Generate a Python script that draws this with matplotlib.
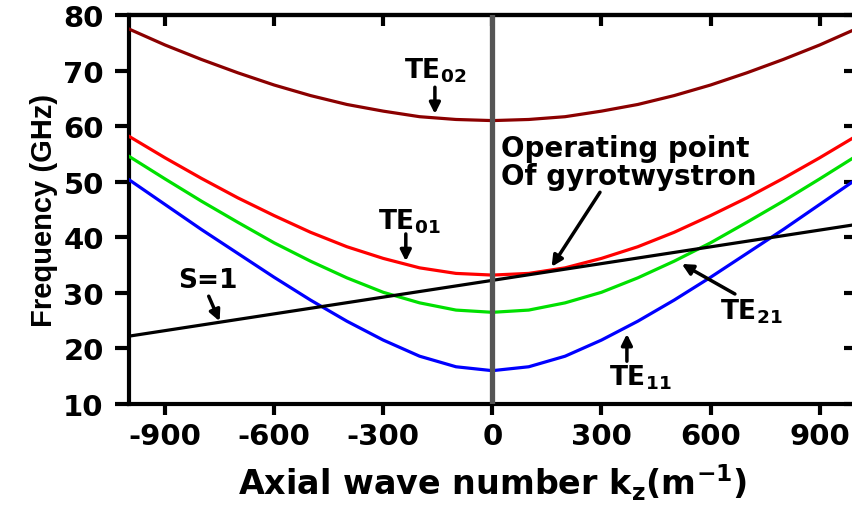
import matplotlib
matplotlib.use("Agg")
import matplotlib.pyplot as plt

plt.rcParams['font.family'] = ['DejaVu Sans']
plt.rcParams['font.weight'] = 'bold'
plt.rcParams['mathtext.fontset'] = 'dejavusans'
plt.rcParams['mathtext.default'] = 'bf'

# Data
kz = [-1000, -900, -800, -700, -600, -500, -400, -300, -200, -100, 0,
      100, 200, 300, 400, 500, 600, 700, 800, 900, 1000]
te11 = [50.4, 45.9, 41.4, 37.1, 32.8, 28.7, 24.9, 21.5, 18.6, 16.7, 16.0,
        16.7, 18.6, 21.5, 24.9, 28.7, 32.8, 37.1, 41.4, 45.9, 50.4]
te21 = [54.6, 50.5, 46.5, 42.7, 39.0, 35.7, 32.7, 30.1, 28.2, 26.9, 26.5,
        26.9, 28.2, 30.1, 32.7, 35.7, 39.0, 42.7, 46.5, 50.5, 54.6]
te01 = [58.2, 54.3, 50.6, 47.1, 43.9, 40.9, 38.3, 36.2, 34.5, 33.5, 33.2,
        33.5, 34.5, 36.2, 38.3, 40.9, 43.9, 47.1, 50.6, 54.3, 58.2]
te02 = [77.5, 74.6, 72.0, 69.6, 67.4, 65.5, 63.9, 62.7, 61.7, 61.2, 61.0,
        61.2, 61.7, 62.7, 63.9, 65.5, 67.4, 69.6, 72.0, 74.6, 77.5]
beam_kz = [-1000, 1000]
beam_f = [22.2, 42.3]

xticks = [-900, -600, -300, 0, 300, 600, 900]
yticks = [10, 20, 30, 40, 50, 60, 70, 80]

fig = plt.figure(figsize=(8.52, 5.06), dpi=100)
ax = fig.add_axes([128.7 / 852, 101 / 506, (856 - 128.7) / 852, 389 / 506])

lw = 2.3
ax.plot(kz, te02, color='#8B0000', lw=lw, zorder=3)
ax.plot(kz, te01, color='#FF0000', lw=lw, zorder=3)
ax.plot(kz, te21, color='#00E000', lw=lw, zorder=3)
ax.plot(kz, te11, color='#0000FF', lw=lw, zorder=3)
ax.plot(beam_kz, beam_f, color='black', lw=lw, zorder=4)
ax.axvline(0, color='#555555', lw=3.8, zorder=5)

ax.set_xlim(-1000, 1000)
ax.set_ylim(10, 80)
ax.set_xticks(xticks)
ax.set_yticks(yticks)
ax.set_xticklabels([str(t) for t in xticks])
ax.set_yticklabels([str(t) for t in yticks])

for s in ax.spines.values():
    s.set_linewidth(3)
ax.tick_params(axis='x', direction='out', length=8, width=3, labelsize=21, pad=5)
ax.tick_params(axis='y', direction='out', length=10, width=3, labelsize=21, pad=8)

secx = ax.secondary_xaxis('top')
secx.set_xticks(xticks)
secx.tick_params(direction='in', length=8, width=3, labeltop=False)
secx.spines['top'].set_linewidth(3)
secy = ax.secondary_yaxis('right')
secy.set_yticks(yticks)
secy.tick_params(direction='in', length=9, width=3, labelright=False)
secy.spines['right'].set_linewidth(3)

ax.set_xlabel('Axial wave number k$_\\mathbf{z}$(m$^\\mathbf{-1}$)', fontsize=24,
              fontweight='bold', labelpad=8)
ax.set_ylabel('Frequency (GHz)', fontsize=21, fontweight='bold',
              family=['Liberation Sans Narrow', 'Liberation Sans', 'DejaVu Sans'],
              labelpad=4)

ap = dict(arrowstyle='-|>', lw=2.5, color='black', mutation_scale=16,
          shrinkA=0, shrinkB=0)
fs = 19
ax.annotate('', xy=(-158, 62.2), xytext=(-158, 67.0), arrowprops=ap, zorder=6)
ax.text(-156, 70.1, 'TE$_{02}$', fontsize=fs, ha='center', va='center')

ax.annotate('', xy=(-238, 35.7), xytext=(-238, 40.6), arrowprops=ap, zorder=6)
ax.text(-227, 42.9, 'TE$_{01}$', fontsize=fs, ha='center', va='center')

ax.annotate('', xy=(-750, 24.9), xytext=(-780, 29.4), arrowprops=ap, zorder=6)
ax.text(-783, 32.3, 'S=1', fontsize=fs, ha='center', va='center')

ax.annotate('', xy=(521, 35.2), xytext=(667, 29.8), arrowprops=ap, zorder=6)
ax.text(711, 26.7, 'TE$_{21}$', fontsize=fs, ha='center', va='center')

ax.annotate('', xy=(370, 22.6), xytext=(370, 17.7), arrowprops=ap, zorder=6)
ax.text(408, 14.9, 'TE$_{11}$', fontsize=fs, ha='center', va='center')

ax.annotate('', xy=(163, 34.7), xytext=(296, 48.1), arrowprops=ap, zorder=6)
ax.text(25, 53.6, 'Operating point\nOf gyrotwystron', fontsize=20,
        ha='left', va='center', linespacing=1.0, zorder=7)

fig.savefig('out.png', dpi=100)
